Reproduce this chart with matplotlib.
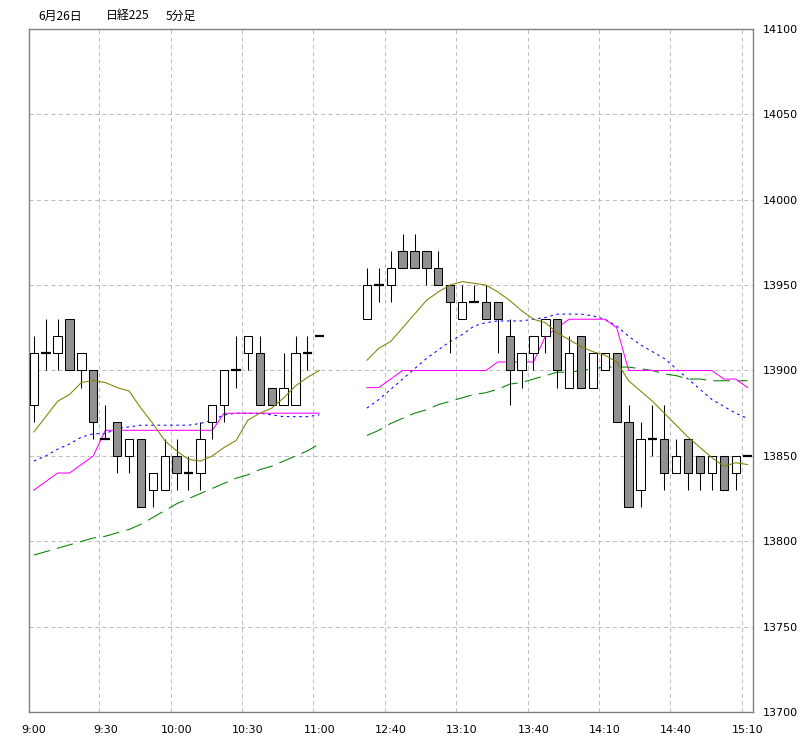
import matplotlib
matplotlib.use("Agg")
import matplotlib.pyplot as plt
from matplotlib.patches import Rectangle
import numpy as np

# 前場 9:00-11:00 (5分足)
open_am = [13880, 13910, 13910, 13930, 13900, 13900, 13860, 13870, 13850, 13860, 13830, 13830, 13850,
           13840, 13840, 13870, 13880, 13900, 13910, 13910, 13890, 13880, 13880, 13910, 13920]
high_am = [13920, 13930, 13930, 13930, 13910, 13900, 13880, 13870, 13860, 13860, 13840, 13860, 13860,
           13850, 13870, 13880, 13900, 13920, 13920, 13920, 13890, 13910, 13920, 13920, 13920]
low_am = [13870, 13900, 13900, 13900, 13890, 13860, 13860, 13840, 13840, 13820, 13820, 13830, 13830,
          13830, 13830, 13860, 13870, 13890, 13900, 13880, 13880, 13880, 13880, 13900, 13920]
close_am = [13910, 13910, 13920, 13900, 13910, 13870, 13860, 13850, 13860, 13820, 13840, 13850, 13840,
            13840, 13860, 13880, 13900, 13900, 13920, 13880, 13880, 13890, 13910, 13910, 13920]

# 後場 12:30-15:10
open_pm = [13930, 13950, 13950, 13970, 13970, 13970, 13960, 13950, 13930, 13940, 13940, 13940, 13920,
           13900, 13910, 13920, 13930, 13890, 13920, 13890, 13900, 13910, 13870, 13830, 13860, 13860,
           13840, 13860, 13850, 13840, 13850, 13840, 13850]
high_pm = [13960, 13960, 13970, 13980, 13980, 13970, 13970, 13950, 13950, 13950, 13950, 13940, 13930,
           13910, 13920, 13930, 13930, 13920, 13920, 13910, 13910, 13910, 13880, 13870, 13880, 13880,
           13860, 13860, 13850, 13850, 13850, 13850, 13850]
low_pm = [13930, 13940, 13940, 13960, 13960, 13950, 13950, 13910, 13930, 13940, 13930, 13910, 13880,
          13890, 13900, 13910, 13890, 13890, 13890, 13890, 13900, 13870, 13820, 13820, 13850, 13830,
          13840, 13830, 13830, 13830, 13830, 13830, 13850]
close_pm = [13950, 13950, 13960, 13960, 13960, 13960, 13950, 13940, 13940, 13940, 13930, 13930, 13900,
            13910, 13920, 13930, 13900, 13910, 13890, 13910, 13910, 13870, 13820, 13860, 13860, 13840,
            13850, 13840, 13840, 13850, 13830, 13850, 13850]

# 移動平均など
ma_olive_am = [13864, 13873, 13882, 13886, 13893, 13894, 13893, 13890, 13888, 13878, 13869, 13859, 13853,
               13848, 13847, 13850, 13855, 13859, 13871, 13875, 13878, 13884, 13891, 13896, 13900]
ma_olive_pm = [13906, 13913, 13917, 13925, 13933, 13941, 13946, 13950, 13952, 13951, 13950, 13946, 13941,
               13935, 13930, 13928, 13922, 13918, 13914, 13911, 13909, 13905, 13894, 13888, 13882, 13875,
               13868, 13861, 13855, 13849, 13844, 13846, 13845]
ma_blue_am = [13847, 13850, 13854, 13857, 13861, 13863, 13863, 13866, 13867, 13868, 13868, 13868, 13868,
              13868, 13869, 13871, 13874, 13875, 13875, 13875, 13874, 13873, 13873, 13873, 13874]
ma_blue_pm = [13878, 13883, 13889, 13895, 13901, 13907, 13912, 13917, 13921, 13926, 13928, 13929, 13929,
              13929, 13930, 13931, 13933, 13933, 13933, 13932, 13930, 13926, 13920, 13915, 13911, 13907,
              13901, 13895, 13889, 13883, 13879, 13875, 13872]
mid_am = [13830, 13835, 13840, 13840, 13845, 13850, 13865, 13865, 13865, 13865, 13865, 13865, 13865,
          13865, 13865, 13865, 13875, 13875, 13875, 13875, 13875, 13875, 13875, 13875, 13875]
mid_pm = [13890, 13890, 13895, 13900, 13900, 13900, 13900, 13900, 13900, 13900, 13900, 13905, 13905,
          13905, 13905, 13920, 13925, 13930, 13930, 13930, 13930, 13925, 13900, 13900, 13900, 13900,
          13900, 13900, 13900, 13900, 13895, 13895, 13890]
ma_green_am = [13792, 13794, 13796, 13798, 13800, 13802, 13803, 13805, 13807, 13810, 13814, 13818, 13822,
               13825, 13828, 13831, 13834, 13837, 13839, 13842, 13844, 13847, 13850, 13853, 13857]
ma_green_pm = [13862, 13865, 13869, 13872, 13875, 13877, 13880, 13882, 13884, 13886, 13887, 13889, 13892,
               13893, 13895, 13897, 13899, 13899, 13900, 13901, 13902, 13902, 13902, 13901, 13900, 13898,
               13897, 13895, 13895, 13894, 13894, 13894, 13894]

tick_labels = ["9:00", "9:30", "10:00", "10:30", "11:00", "12:40", "13:10", "13:40", "14:10", "14:40", "15:10"]
y_ticks = [13700, 13750, 13800, 13850, 13900, 13950, 14000, 14050, 14100]

AM_START = 0
PM_START = 28


def draw_candles(ax, x0, o, h, l, c):
    for i in range(len(o)):
        x = x0 + i
        ax.vlines(x, l[i], h[i], color="black", lw=0.75, zorder=3)
        if o[i] == c[i]:
            ax.hlines(o[i], x - 0.4, x + 0.4, color="black", lw=1.6, zorder=4)
        else:
            face = "white" if c[i] > o[i] else "#919191"
            ax.add_patch(Rectangle((x - 0.35, min(o[i], c[i])), 0.7, abs(c[i] - o[i]),
                                   facecolor=face, edgecolor="black", lw=0.75, zorder=4))


fig = plt.figure(figsize=(8.06, 7.54), dpi=100)
ax = fig.add_axes([28.5 / 806, (754 - 712.3) / 754, (753.3 - 28.5) / 806, (712.3 - 28.7) / 754])

x_am = AM_START + np.arange(len(open_am))
x_pm = PM_START + np.arange(len(open_pm))

for xs, m1, m2, m3, m4 in [(x_am, ma_olive_am, ma_blue_am, mid_am, ma_green_am),
                           (x_pm, ma_olive_pm, ma_blue_pm, mid_pm, ma_green_pm)]:
    ax.plot(xs, m4, color="#008000", lw=0.75, linestyle=(0, (16, 7)), zorder=2)
    ax.plot(xs, m2, color="#0000ff", lw=0.75, linestyle=(0, (2.5, 3.5)), zorder=2)
    ax.plot(xs, m3, color="#ff00ff", lw=0.75, zorder=2)
    ax.plot(xs, m1, color="#808000", lw=0.75, zorder=5)

draw_candles(ax, AM_START, open_am, high_am, low_am, close_am)
draw_candles(ax, PM_START, open_pm, high_pm, low_pm, close_pm)

ax.set_xlim(-0.45, 60.48)
ax.set_ylim(13700, 14100)

ax.set_xticks(range(0, 61, 6))
ax.set_xticklabels(tick_labels)
ax.set_xticks(np.arange(5.5, 60, 6), minor=True)
ax.set_yticks(y_ticks)
ax.yaxis.tick_right()
ax.tick_params(axis="both", which="both", length=0, labelsize=8)
ax.tick_params(axis="x", pad=9)
ax.tick_params(axis="y", pad=7)

ax.grid(which="minor", axis="x", color="#c0c0c0", lw=0.75, linestyle=(0, (4, 3)))
ax.grid(which="major", axis="y", color="#c0c0c0", lw=0.75, linestyle=(0, (4, 3)))
ax.set_axisbelow(True)
for s in ax.spines.values():
    s.set_color("#808080")
    s.set_linewidth(1)

jp = ["Noto Sans CJK JP", "DejaVu Sans"]
fig.text(38 / 806, 1 - 16 / 754, "6月26日", family=jp, fontsize=8.6, va="center")
fig.text(106 / 806, 1 - 16 / 754, "日経225", family=jp, fontsize=8.6, va="center")
fig.text(165.5 / 806, 1 - 16 / 754, "5分足", family=jp, fontsize=8.6, va="center")

fig.savefig("out.png", dpi=100)
